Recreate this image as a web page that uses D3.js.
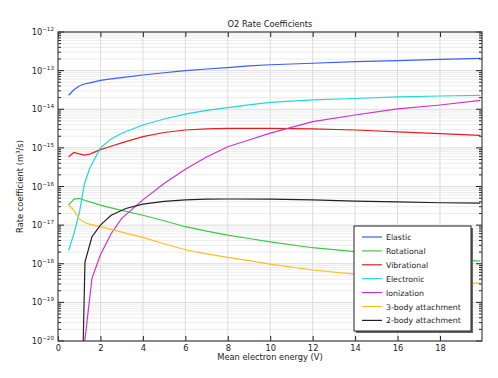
<!DOCTYPE html>
<html>
<head>
<meta charset="utf-8">
<script src="https://cdn.jsdelivr.net/npm/d3@7"></script>
<style>
  body { margin: 0; background: #fff; }
  text { font-family: "DejaVu Sans", sans-serif; fill: #222; }
</style>
</head>
<body>
<div id="container"></div>
<script>
// mean electron energy (V) for most series
let energy = [0.5, 0.75, 1, 1.25, 1.5, 2, 2.5, 3, 4, 5, 6, 7, 8, 9, 10, 12, 14, 16, 18, 19.9];
let elastic = [2.3e-14, 3.2e-14, 4.0e-14, 4.5e-14, 4.8e-14, 5.6e-14, 6.1e-14, 6.6e-14, 7.7e-14, 8.8e-14, 1.0e-13, 1.1e-13, 1.2e-13, 1.33e-13, 1.42e-13, 1.55e-13, 1.7e-13, 1.82e-13, 1.95e-13, 2.08e-13];
let rotational = [3.3e-17, 4.7e-17, 4.9e-17, 4.4e-17, 4.0e-17, 3.3e-17, 2.8e-17, 2.4e-17, 1.8e-17, 1.3e-17, 9.1e-18, 7.0e-18, 5.5e-18, 4.5e-18, 3.7e-18, 2.6e-18, 2.05e-18, 1.6e-18, 1.35e-18, 1.17e-18];
let vibrational = [5.9e-16, 7.6e-16, 7.0e-16, 6.5e-16, 6.9e-16, 9.0e-16, 1.1e-15, 1.35e-15, 1.95e-15, 2.5e-15, 2.9e-15, 3.1e-15, 3.2e-15, 3.2e-15, 3.2e-15, 3.1e-15, 2.9e-15, 2.6e-15, 2.35e-15, 2.1e-15];
let electronic = [2.2e-18, 6.0e-18, 2.0e-17, 1.2e-16, 3.0e-16, 1.0e-15, 1.7e-15, 2.4e-15, 3.9e-15, 5.6e-15, 7.5e-15, 9.3e-15, 1.1e-14, 1.3e-14, 1.5e-14, 1.74e-14, 1.9e-14, 2.1e-14, 2.2e-14, 2.3e-14];
let threeBody = [3.3e-17, 2.4e-17, 1.45e-17, 1.17e-17, 1.05e-17, 9.1e-18, 7.8e-18, 6.6e-18, 4.8e-18, 3.3e-18, 2.3e-18, 1.8e-18, 1.47e-18, 1.2e-18, 9.8e-19, 6.9e-19, 5.4e-19, 4.2e-19, 3.6e-19, 3.1e-19];

// ionization and 2-body attachment start near their thresholds
let energyIon = [1.2, 1.6, 2, 2.5, 3, 4, 5, 6, 7, 8, 9, 10, 12, 14, 16, 18, 19.9];
let ionization = [5e-21, 4.2e-19, 1.7e-18, 6.0e-18, 1.5e-17, 4.5e-17, 1.2e-16, 2.8e-16, 5.8e-16, 1.07e-15, 1.6e-15, 2.4e-15, 4.8e-15, 7.1e-15, 1.02e-14, 1.29e-14, 1.7e-14];
let energyAtt = [1.15, 1.27, 1.6, 2, 2.5, 3.2, 4, 5, 6, 7, 8, 10, 12, 14, 16, 18, 19.9];
let twoBody = [1e-21, 1.1e-18, 5.0e-18, 1.0e-17, 1.8e-17, 2.7e-17, 3.5e-17, 4.1e-17, 4.5e-17, 4.7e-17, 4.75e-17, 4.7e-17, 4.5e-17, 4.2e-17, 4.0e-17, 3.8e-17, 3.7e-17];

let seriesNames = ["Elastic", "Rotational", "Vibrational", "Electronic", "Ionization", "3-body attachment", "2-body attachment"];
let seriesColors = ["#3b5cff", "#3cc84a", "#e02020", "#20d8d8", "#d030d0", "#ffbe20", "#222222"];
let xTicks = [0, 2, 4, 6, 8, 10, 12, 14, 16, 18];
let yDecades = [-20, -19, -18, -17, -16, -15, -14, -13, -12];

let series = [
  { x: energy, y: elastic },
  { x: energy, y: rotational },
  { x: energy, y: vibrational },
  { x: energy, y: electronic },
  { x: energyIon, y: ionization },
  { x: energy, y: threeBody },
  { x: energyAtt, y: twoBody }
];

let w = 498;
let h = 378;
let pLeft = 58, pRight = 482, pTop = 32, pBottom = 341;
let fs = 8.3;

let viz = d3.select("#container")
  .append("svg")
    .attr("width", w)
    .attr("height", h)
;

let xScale = d3.scaleLinear().domain([0, 19.98]).range([pLeft, pRight]);
let yScale = d3.scaleLog().domain([1e-20, 1e-12]).range([pBottom, pTop]);

// minor values for the log grid
let minorVals = [];
yDecades.slice(0, -1).forEach(function(e){
  for (let m = 2; m <= 9; m++) minorVals.push(m * Math.pow(10, e));
});
let majorVals = yDecades.map(function(e){ return Math.pow(10, e) });

// grid
let grid = viz.append("g").attr("class", "grid");
grid.selectAll(".minor").data(minorVals).enter().append("line")
    .attr("x1", pLeft).attr("x2", pRight)
    .attr("y1", function(d){ return yScale(d) })
    .attr("y2", function(d){ return yScale(d) })
    .attr("stroke", "#ececec")
    .attr("stroke-width", 1)
;
grid.selectAll(".major").data(majorVals).enter().append("line")
    .attr("x1", pLeft).attr("x2", pRight)
    .attr("y1", function(d){ return yScale(d) })
    .attr("y2", function(d){ return yScale(d) })
    .attr("stroke", "#dcdcdc")
;
grid.selectAll(".vx").data(xTicks.slice(1)).enter().append("line")
    .attr("y1", pTop).attr("y2", pBottom)
    .attr("x1", function(d){ return xScale(d) })
    .attr("x2", function(d){ return xScale(d) })
    .attr("stroke", "#dcdcdc")
;

// lines
viz.append("clipPath").attr("id", "plotclip")
  .append("rect").attr("x", pLeft).attr("y", pTop).attr("width", pRight - pLeft).attr("height", pBottom - pTop);

let lineMaker = d3.line()
  .x(function(d){ return xScale(d[0]) })
  .y(function(d){ return yScale(d[1]) })
;

let lines = viz.append("g").attr("clip-path", "url(#plotclip)");
series.forEach(function(s, i){
  let pts = s.x.map(function(v, j){ return [v, s.y[j]] });
  lines.append("path")
    .datum(pts)
    .attr("d", lineMaker)
    .attr("fill", "none")
    .attr("stroke", seriesColors[i])
    .attr("stroke-width", 1.2)
  ;
});

// axes with inward ticks
let xAxisB = d3.axisBottom(xScale).tickValues(xTicks).tickSize(-5).tickPadding(4).tickFormat(d3.format("d"));
let xAxisGroup = viz.append("g")
    .attr("transform", "translate(0," + pBottom + ")")
    .call(xAxisB);
xAxisGroup.selectAll("text").attr("font-size", fs).attr("font-family", null);

let xAxisT = d3.axisTop(xScale).tickValues(xTicks).tickSize(-5).tickFormat("");
viz.append("g").attr("transform", "translate(0," + pTop + ")").call(xAxisT);

function yTicks(g, dir){
  g.selectAll(".mn").data(minorVals).enter().append("line")
    .attr("x1", 0).attr("x2", 3 * dir)
    .attr("y1", function(d){ return yScale(d) })
    .attr("y2", function(d){ return yScale(d) })
    .attr("stroke", "#222");
  g.selectAll(".mj").data(majorVals).enter().append("line")
    .attr("x1", 0).attr("x2", 6 * dir)
    .attr("y1", function(d){ return yScale(d) })
    .attr("y2", function(d){ return yScale(d) })
    .attr("stroke", "#222");
}
let yLeft = viz.append("g").attr("transform", "translate(" + pLeft + ",0)");
yTicks(yLeft, 1);
let yRight = viz.append("g").attr("transform", "translate(" + pRight + ",0)");
yTicks(yRight, -1);

// y tick labels as 10^n
let yLabels = viz.append("g");
yDecades.forEach(function(e){
  let t = yLabels.append("text")
    .attr("x", pLeft - 4)
    .attr("y", yScale(Math.pow(10, e)) + 3)
    .attr("text-anchor", "end")
    .attr("font-size", fs);
  t.append("tspan").text("10");
  t.append("tspan").text("\u2212" + Math.abs(e)).attr("font-size", 5.6).attr("dy", -4);
});

// frame
viz.append("rect")
    .attr("x", pLeft).attr("y", pTop)
    .attr("width", pRight - pLeft).attr("height", pBottom - pTop)
    .attr("fill", "none")
    .attr("stroke", "#444")
    .attr("stroke-width", 1.2)
;
viz.selectAll(".domain").remove();
viz.selectAll(".tick line").attr("stroke", "#222");

// title and axis labels
viz.append("text").attr("x", (pLeft + pRight) / 2).attr("y", 27)
    .attr("text-anchor", "middle").attr("font-size", fs).text("O2 Rate Coefficients");
viz.append("text").attr("x", (pLeft + pRight) / 2).attr("y", 360)
    .attr("text-anchor", "middle").attr("font-size", fs).text("Mean electron energy (V)");
let yl = viz.append("text")
    .attr("transform", "translate(23," + ((pTop + pBottom) / 2) + ") rotate(-90)")
    .attr("text-anchor", "middle").attr("font-size", fs);
yl.append("tspan").text("Rate coefficient (m");
yl.append("tspan").text("3").attr("font-size", 5.6).attr("dy", -3);
yl.append("tspan").text("/s)").attr("dy", 3);

// legend with shadow
let lg = viz.append("g").attr("transform", "translate(354,226)");
lg.append("rect").attr("x", 2).attr("y", 2).attr("width", 117).attr("height", 105).attr("fill", "#666");
lg.append("rect").attr("width", 117).attr("height", 105).attr("fill", "#fff").attr("stroke", "#222").attr("stroke-width", 1);
seriesNames.forEach(function(name, i){
  let yy = 11 + i * 13.9;
  lg.append("line").attr("x1", 8).attr("x2", 28).attr("y1", yy).attr("y2", yy)
    .attr("stroke", seriesColors[i]).attr("stroke-width", 1.2);
  lg.append("text").attr("x", 32).attr("y", yy + 3).attr("font-size", 7.8).text(name);
});
</script>
</body>
</html>
